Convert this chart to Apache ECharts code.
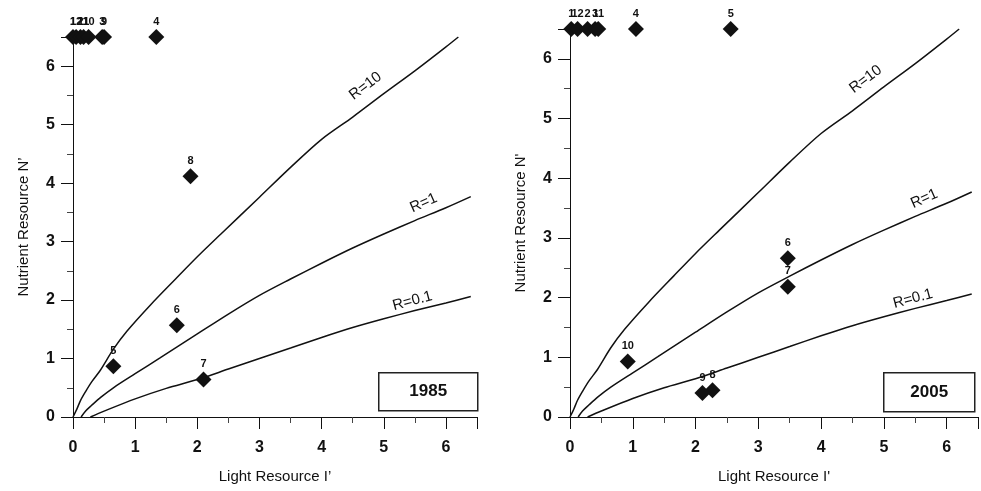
<!DOCTYPE html>
<html>
<head>
<meta charset="utf-8">
<script src="https://cdn.jsdelivr.net/npm/echarts@6/dist/echarts.min.js"></script>
<style>
  html, body { margin: 0; padding: 0; background: #fff; }
  #chart { width: 981px; height: 491px; }
</style>
</head>
<body>
<div id="chart"></div>
<script>
// curves, [light, nutrient]
const curveR10 = [[0, 0], [0.06, 0.13], [0.12, 0.28], [0.2, 0.43], [0.3, 0.6], [0.44, 0.8], [0.65, 1.16],
  [0.87, 1.47], [1.25, 1.92], [1.65, 2.36], [2, 2.74], [2.38, 3.13], [3, 3.76], [3.5, 4.27], [4, 4.75],
  [4.5, 5.13], [5, 5.53], [5.5, 5.92], [6, 6.33], [6.2, 6.5]];
const curveR1 = [[0.13, 0], [0.2, 0.1], [0.3, 0.2], [0.45, 0.34], [0.65, 0.5], [1, 0.74], [1.4, 1.01],
  [2, 1.42], [2.5, 1.76], [3, 2.08], [3.5, 2.36], [4, 2.63], [4.5, 2.89], [5, 3.13], [5.5, 3.36],
  [6, 3.58], [6.4, 3.77]];
const curveR01 = [[0.28, 0], [0.5, 0.1], [1, 0.31], [1.5, 0.49], [2, 0.64], [2.5, 0.82], [3, 1.0],
  [3.5, 1.18], [4, 1.36], [4.5, 1.53], [5, 1.68], [5.5, 1.82], [6, 1.95], [6.4, 2.06]];
const curveNames = ['R=10', 'R=1', 'R=0.1'];

const sites1985 = ['1', '12', '2', '11', '10', '3', '9', '4', '5', '6', '7', '8'];
const light1985 = [0.0, 0.05, 0.12, 0.17, 0.25, 0.47, 0.5, 1.34, 0.65, 1.67, 2.1, 1.89];
const nutrient1985 = [6.5, 6.5, 6.5, 6.5, 6.5, 6.5, 6.5, 6.5, 0.87, 1.57, 0.64, 4.12];

const sites2005 = ['1', '12', '2', '3', '11', '4', '5', '6', '7', '8', '9', '10'];
const light2005 = [0.02, 0.12, 0.28, 0.4, 0.45, 1.05, 2.56, 3.47, 3.47, 2.27, 2.11, 0.92];
const nutrient2005 = [6.5, 6.5, 6.5, 6.5, 6.5, 6.5, 6.5, 2.66, 2.18, 0.45, 0.4, 0.93];

const axisMax = 6.5;
const font = '"Liberation Sans", Arial, sans-serif';
const ink = '#111';

const chart = echarts.init(document.getElementById('chart'));

const makeX = (gridIndex, name) => ({
  type: 'value',
  gridIndex,
  min: 0,
  max: axisMax,
  interval: 1,
  name,
  nameLocation: 'middle',
  nameGap: 52,
  nameTextStyle: { color: ink, fontSize: 15, fontFamily: font },
  axisLine: { lineStyle: { color: ink, width: 1 } },
  axisTick: { length: 12, lineStyle: { color: ink } },
  minorTick: { show: true, splitNumber: 2, length: 6, lineStyle: { color: '#444' } },
  axisLabel: {
    margin: 23,
    color: ink,
    fontSize: 16,
    fontWeight: 'bold',
    fontFamily: font,
    formatter: (v) => (Number.isInteger(v) ? String(v) : ''),
  },
  splitLine: { show: false },
});

const makeY = (gridIndex, name) => ({
  type: 'value',
  gridIndex,
  min: 0,
  max: axisMax,
  interval: 1,
  name,
  nameLocation: 'middle',
  nameGap: 42,
  nameTextStyle: { color: ink, fontSize: 15, fontFamily: font },
  axisLine: { lineStyle: { color: ink, width: 1 } },
  axisTick: { length: 12, lineStyle: { color: ink } },
  minorTick: { show: true, splitNumber: 2, length: 6, lineStyle: { color: '#444' } },
  axisLabel: {
    margin: 18,
    color: ink,
    fontSize: 16,
    fontWeight: 'bold',
    fontFamily: font,
    formatter: (v) => (Number.isInteger(v) ? String(v) : ''),
  },
  splitLine: { show: false },
});

// label spot on each curve: x on curve, rotation, pixel offset
const labelSpots = [
  { at: 5.0, rotate: 37, offset: [-10, -17] },
  { at: 5.8, rotate: 24, offset: [-5, -13] },
  { at: 5.55, rotate: 15, offset: [-3, -10] },
];

const yOnCurve = (curve, x) => {
  for (let i = 1; i < curve.length; i++) {
    if (curve[i][0] >= x) {
      const [x0, y0] = curve[i - 1];
      const [x1, y1] = curve[i];
      return y0 + ((y1 - y0) * (x - x0)) / (x1 - x0);
    }
  }
  return curve[curve.length - 1][1];
};

const curveSeries = (gridIndex) =>
  [curveR10, curveR1, curveR01].map((curve, i) => ({
    type: 'line',
    name: curveNames[i],
    xAxisIndex: gridIndex,
    yAxisIndex: gridIndex,
    data: curve,
    smooth: 0.3,
    showSymbol: false,
    silent: true,
    lineStyle: { color: ink, width: 1.5, opacity: 1 },
    markPoint: {
      silent: true,
      symbol: 'circle',
      symbolSize: 0,
      data: [
        {
          coord: [labelSpots[i].at, yOnCurve(curve, labelSpots[i].at)],
          label: {
            show: true,
            formatter: curveNames[i],
            position: 'inside',
            rotate: labelSpots[i].rotate,
            offset: labelSpots[i].offset,
            color: ink,
            fontSize: 15,
            fontFamily: font,
          },
        },
      ],
    },
  }));

const pointSeries = (gridIndex, sites, light, nutrient) => ({
  type: 'scatter',
  xAxisIndex: gridIndex,
  yAxisIndex: gridIndex,
  symbol: 'diamond',
  symbolSize: 16,
  clip: false,
  itemStyle: { color: ink, opacity: 1 },
  data: sites.map((s, i) => ({ name: s, value: [light[i], nutrient[i]] })),
  label: {
    show: true,
    position: 'top',
    distance: 2,
    formatter: (p) => p.name,
    color: ink,
    opacity: 1,
    fontSize: 11,
    fontWeight: 'bold',
    fontFamily: font,
  },
  labelLayout: { hideOverlap: false },
});

chart.setOption({
  animation: false,
  backgroundColor: '#fff',
  grid: [
    { left: 73, top: 37, width: 404, height: 380 },
    { left: 570, top: 29, width: 410, height: 388 },
  ],
  xAxis: [makeX(0, 'Light Resource I\u2019'), makeX(1, "Light Resource I'")],
  yAxis: [makeY(0, 'Nutrient Resource N\u2019'), makeY(1, "Nutrient Resource N'")],
  series: [
    ...curveSeries(0),
    ...curveSeries(1),
    pointSeries(0, sites1985, light1985, nutrient1985),
    pointSeries(1, sites2005, light2005, nutrient2005),
  ],
  graphic: [
    {
      type: 'group',
      left: 378,
      top: 372,
      children: [
        { type: 'rect', shape: { x: 0, y: 0, width: 99, height: 38 }, style: { fill: '#fff', stroke: '#222', lineWidth: 1.5 } },
        { type: 'text', x: 49.5, y: 19, style: { text: '1985', align: 'center', verticalAlign: 'middle', fill: ink, font: 'bold 17px ' + font } },
      ],
    },
    {
      type: 'group',
      left: 883,
      top: 372,
      children: [
        { type: 'rect', shape: { x: 0, y: 0, width: 91, height: 39 }, style: { fill: '#fff', stroke: '#222', lineWidth: 1.5 } },
        { type: 'text', x: 45.5, y: 19.5, style: { text: '2005', align: 'center', verticalAlign: 'middle', fill: ink, font: 'bold 17px ' + font } },
      ],
    },
  ],
});
</script>
</body>
</html>
